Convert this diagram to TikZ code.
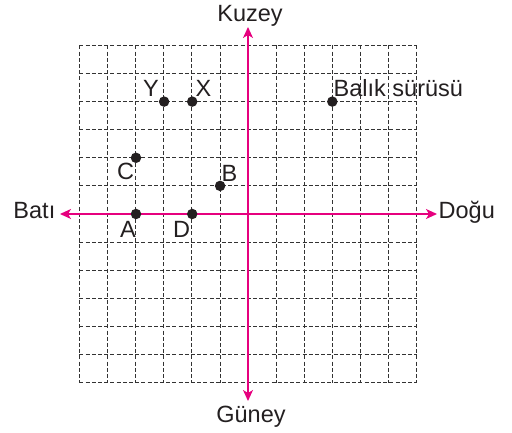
\documentclass[tikz,border=0pt]{standalone}
\usepackage{fontspec}
\setmainfont{Liberation Sans}
\usetikzlibrary{arrows.meta}
\definecolor{axispink}{RGB}{230,0,126}
\definecolor{txt}{RGB}{35,31,32}
\tikzset{
  gridline/.style={black!80, line width=0.8pt, dash pattern=on 4pt off 2.2pt},
  axisline/.style={axispink, line width=1.5pt, -{Stealth[length=11pt,width=10pt,inset=3pt]}},
  dot/.style={circle, fill=txt, inner sep=0pt, minimum size=10.5pt},
  lbl/.style={text=txt, inner sep=0pt, font=\fontsize{23.5}{27}\selectfont}
}
\begin{document}
\begin{tikzpicture}[x=1pt,y=-1pt]
\useasboundingbox (0,0) rectangle (512,433);
% grid
\foreach \i in {0,...,12}{
  \draw[gridline] ({79.4+\i*28.1},45.4) -- ({79.4+\i*28.1},382.6);
  \draw[gridline] (79.4,{45.4+\i*28.1}) -- (416.6,{45.4+\i*28.1});
}
% axis ends
\coordinate (N) at (248,27);
\coordinate (S) at (248,401);
\coordinate (W) at (60,214);
\coordinate (E) at (437,214);
\coordinate (S0) at (248,214);
\draw[axisline] (S0) -- (N);
\draw[axisline] (S0) -- (S);
\draw[axisline] (S0) -- (W);
\draw[axisline] (S0) -- (E);
% direction labels
\node[lbl, anchor=base] (kuzey) at (250,22) {Kuzey};
\node[lbl, anchor=base] (guney) at (251,422) {Güney};
\node[lbl, anchor=base east] (bati) at (55.5,219) {Batı};
\node[lbl, anchor=base west] (dogu) at (438.5,219) {Doğu};
% points
\node[dot] (A) at (136,214) {};
\node[dot] (D) at (192.2,214) {};
\node[dot] (B) at (220.1,185.9) {};
\node[dot] (C) at (136,157.8) {};
\node[dot] (Y) at (164.1,101.6) {};
\node[dot] (X) at (192.2,101.6) {};
\node[dot] (F) at (332.3,101.6) {};
% point labels
\node[lbl, anchor=base] (Alab) at (128,237) {A};
\node[lbl, anchor=base] (Dlab) at (181.5,237) {D};
\node[lbl, anchor=base] (Clab) at (125.5,180) {C};
\node[lbl, anchor=base] (Blab) at (229.5,182) {B};
\node[lbl, anchor=base] (Ylab) at (151,97) {Y};
\node[lbl, anchor=base] (Xlab) at (203.5,97) {X};
\node[lbl, anchor=base west] (Flab) at (333.5,97) {Balık sürüsü};
\end{tikzpicture}
\end{document}
